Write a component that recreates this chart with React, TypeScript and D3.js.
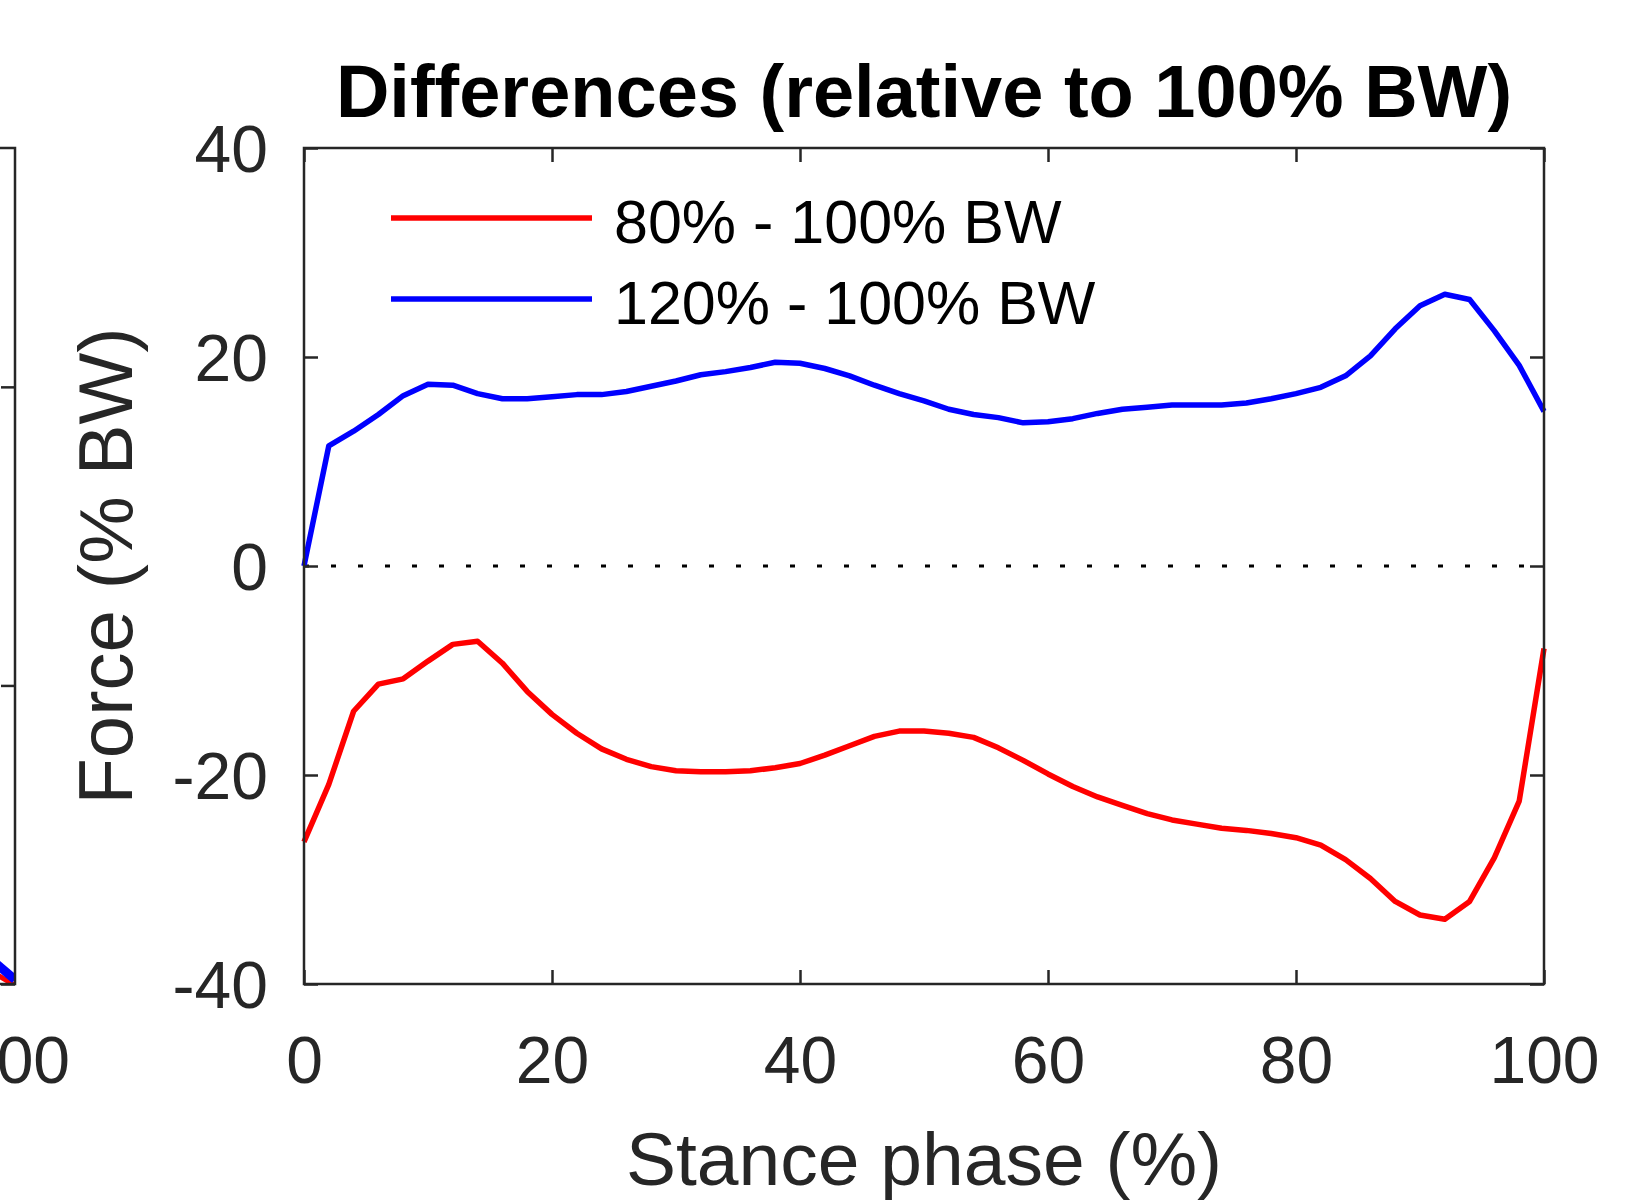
import React, { useRef, useEffect } from "react";
import * as d3 from "d3";

// stance phase (%) sampled every 2%
const phase = [
  0, 2, 4, 6, 8, 10, 12, 14, 16, 18, 20, 22, 24, 26, 28, 30, 32, 34, 36, 38, 40, 42, 44, 46, 48, 50,
  52, 54, 56, 58, 60, 62, 64, 66, 68, 70, 72, 74, 76, 78, 80, 82, 84, 86, 88, 90, 92, 94, 96, 98, 100,
];

// 80% - 100% BW
const diff80 = [
  -26.4, -20.9, -13.9, -11.3, -10.8, -9.1, -7.5, -7.2, -9.3, -12.0, -14.2, -16.0, -17.5, -18.5, -19.2,
  -19.6, -19.7, -19.7, -19.6, -19.3, -18.9, -18.1, -17.2, -16.3, -15.8, -15.8, -16.0, -16.4, -17.4,
  -18.6, -19.9, -21.1, -22.1, -22.9, -23.7, -24.3, -24.7, -25.1, -25.3, -25.6, -26.0, -26.7, -28.1,
  -29.9, -32.1, -33.4, -33.8, -32.1, -27.9, -22.5, -7.9,
];

// 120% - 100% BW
const diff120 = [
  0, 11.5, 12.9, 14.5, 16.3, 17.4, 17.3, 16.5, 16.0, 16.0, 16.2, 16.4, 16.4, 16.7, 17.2, 17.7, 18.3,
  18.6, 19.0, 19.5, 19.4, 18.9, 18.2, 17.3, 16.5, 15.8, 15.0, 14.5, 14.2, 13.7, 13.8, 14.1, 14.6, 15.0,
  15.2, 15.4, 15.4, 15.4, 15.6, 16.0, 16.5, 17.1, 18.2, 20.1, 22.7, 24.9, 26.0, 25.5, 22.5, 19.2, 14.8,
];

const xTicks = [0, 20, 40, 60, 80, 100];
const yTicks = [-40, -20, 0, 20, 40];
const legendLabels = ["80% - 100% BW", "120% - 100% BW"];

// tail of the neighbouring (cut-off) panel on the left
const leftPhase = [98, 100];
const leftRed = [4.5, -0.5];
const leftBlue = [8.5, 1.5];
const leftYTicks = [0, 100, 200];

const FONT = "'Liberation Sans', Arial, Helvetica, sans-serif";
const AXIS = "#262626";

const App = () => {
  const svgRef = useRef(null);

  useEffect(() => {
    const width = 1648;
    const height = 1200;
    const m = { left: 304, right: 1544, top: 148, bottom: 984 };
    const tick = 14;

    const svg = d3.select(svgRef.current).attr("width", width).attr("height", height);
    svg.selectAll("*").remove();

    const x = d3.scaleLinear().domain([0, 100]).range([m.left, m.right]);
    const y = d3.scaleLinear().domain([-40, 40]).range([m.bottom, m.top]);
    const fmt = (d) => String(d); // plain hyphen minus, like MATLAB

    // LEFT (cut-off) PANEL
    const pw = m.right - m.left;
    const xl = d3.scaleLinear().domain([0, 100]).range([15 - pw, 15]);
    const yl = d3.scaleLinear().domain([0, 280]).range([m.bottom, m.top]);

    svg.append("clipPath").attr("id", "clipL")
      .append("rect").attr("x", 15 - pw).attr("y", m.top).attr("width", pw).attr("height", m.bottom - m.top);

    const lineL = d3.line().x((d) => xl(d[0])).y((d) => yl(d[1]));
    const gl = svg.append("g").attr("clip-path", "url(#clipL)");
    gl.append("path").datum(leftPhase.map((p, i) => [p, leftRed[i]]))
      .attr("d", lineL).attr("fill", "none").attr("stroke", "#ff0000").attr("stroke-width", 5);
    gl.append("path").datum(leftPhase.map((p, i) => [p, leftBlue[i]]))
      .attr("d", lineL).attr("fill", "none").attr("stroke", "#0000ff").attr("stroke-width", 9);

    svg.append("g").attr("transform", `translate(${xl(100)},0)`)
      .call(d3.axisRight(yl).tickValues(leftYTicks).tickSizeInner(-tick).tickSizeOuter(0).tickFormat(() => ""))
      .call((g) => g.select(".domain").remove())
      .selectAll("line").attr("stroke", AXIS).attr("stroke-width", 2.5);
    svg.append("rect")
      .attr("x", 15 - pw).attr("y", m.top).attr("width", pw).attr("height", m.bottom - m.top)
      .attr("fill", "none").attr("stroke", AXIS).attr("stroke-width", 2.5);
    svg.append("text").attr("x", xl(100)).attr("y", 1083).attr("text-anchor", "middle")
      .attr("font-family", FONT).attr("font-size", 66).attr("fill", AXIS).text("100");

    // ZERO LINE
    svg.append("line")
      .attr("x1", x(0)).attr("x2", x(100)).attr("y1", y(0)).attr("y2", y(0))
      .attr("stroke", "#000").attr("stroke-width", 3).attr("stroke-dasharray", "5 22");

    // CURVES
    const line = d3.line().x((d) => x(d[0])).y((d) => y(d[1]));
    svg.append("path").datum(phase.map((p, i) => [p, diff80[i]]))
      .attr("d", line).attr("fill", "none").attr("stroke", "#ff0000").attr("stroke-width", 5.5)
      .attr("stroke-linejoin", "round");
    svg.append("path").datum(phase.map((p, i) => [p, diff120[i]]))
      .attr("d", line).attr("fill", "none").attr("stroke", "#0000ff").attr("stroke-width", 5.5)
      .attr("stroke-linejoin", "round");

    // AXES
    const style = (g) => {
      g.select(".domain").remove();
      g.selectAll("line").attr("stroke", AXIS).attr("stroke-width", 2.5);
      g.selectAll("text").attr("font-family", FONT).attr("font-size", 66).attr("fill", AXIS);
    };
    svg.append("g").attr("transform", `translate(0,${m.bottom})`)
      .call(d3.axisBottom(x).tickValues(xTicks).tickSizeInner(-tick).tickSizeOuter(0).tickPadding(52).tickFormat(fmt))
      .call(style);
    svg.append("g").attr("transform", `translate(0,${m.top})`)
      .call(d3.axisTop(x).tickValues(xTicks).tickSizeInner(-tick).tickSizeOuter(0).tickFormat(() => ""))
      .call(style);
    svg.append("g").attr("transform", `translate(${m.left},0)`)
      .call(d3.axisLeft(y).tickValues(yTicks).tickSizeInner(-tick).tickSizeOuter(0).tickPadding(36).tickFormat(fmt))
      .call(style)
      .selectAll("text").attr("dy", "0.36em");
    svg.append("g").attr("transform", `translate(${m.right},0)`)
      .call(d3.axisRight(y).tickValues(yTicks).tickSizeInner(-tick).tickSizeOuter(0).tickFormat(() => ""))
      .call(style);
    svg.append("rect")
      .attr("x", m.left).attr("y", m.top).attr("width", m.right - m.left).attr("height", m.bottom - m.top)
      .attr("fill", "none").attr("stroke", AXIS).attr("stroke-width", 2.5);

    // LEGEND
    const colors = ["#ff0000", "#0000ff"];
    const leg = svg.append("g");
    legendLabels.forEach((lab, i) => {
      const ly = 218 + i * 81;
      leg.append("line").attr("x1", 391).attr("x2", 592).attr("y1", ly).attr("y2", ly)
        .attr("stroke", colors[i]).attr("stroke-width", 5.5);
      leg.append("text").attr("x", 614).attr("y", ly + 25)
        .attr("font-family", FONT).attr("font-size", 61).attr("fill", "#000").text(lab);
    });

    // TITLE + LABELS
    svg.append("text").attr("x", (m.left + m.right) / 2).attr("y", 117).attr("text-anchor", "middle")
      .attr("font-family", FONT).attr("font-weight", "bold").attr("font-size", 74).attr("fill", "#000")
      .text("Differences (relative to 100% BW)");
    svg.append("text").attr("x", (m.left + m.right) / 2).attr("y", 1185).attr("text-anchor", "middle")
      .attr("font-family", FONT).attr("font-size", 75).attr("fill", AXIS)
      .text("Stance phase (%)");
    svg.append("text")
      .attr("transform", `translate(132,${(m.top + m.bottom) / 2}) rotate(-90)`)
      .attr("text-anchor", "middle")
      .attr("font-family", FONT).attr("font-size", 76).attr("fill", AXIS)
      .text("Force (% BW)");
  }, []);

  return (
    <div style={{ position: "absolute", left: 0, top: 0, background: "#fff" }}>
      <svg ref={svgRef} style={{ display: "block" }}></svg>
    </div>
  );
};

export default App;
